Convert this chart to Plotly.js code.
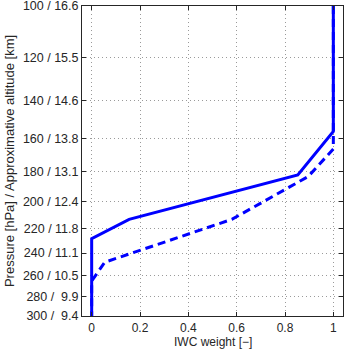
<!DOCTYPE html>
<html>
<head>
<meta charset="utf-8">
<script src="https://cdn.plot.ly/plotly-3.0.1.min.js"></script>
<style>html,body{margin:0;padding:0;background:#fff;}#chart{width:346px;height:349px;}</style>
</head>
<body>
<div id="chart"></div>
<script>
// Solid profile
const solidWeight = [1, 1, 0.853, 0.155, 0, 0];
const solidPressure = [100, 156, 182, 213, 228, 300];
// Dashed profile
const dashedWeight = [1, 1, 0.896, 0.58, 0.054, 0, 0];
const dashedPressure = [100, 166, 183, 213, 248, 265, 300];
// Tick labels
const pressureTicks = [100, 120, 140, 160, 180, 200, 220, 240, 260, 280, 300];
const pressureLabels = ["100 / 16.6", "120 / 15.5", "140 / 14.6", "160 / 13.8", "180 / 13.1",
  "200 / 12.4", "220 / 11.8", "240 / 11.1", "260 / 10.5", "280 /\u00a0\u00a09.9", "300 /\u00a0\u00a09.4"];
const weightTicks = [0, 0.2, 0.4, 0.6, 0.8, 1];
const weightLabels = ["0", "0.2", "0.4", "0.6", "0.8", "1"];
const xTitle = 'IWC weight [\u2212]';
const yTitle = 'Pressure [hPa] / Approximative altitude [km]';

const traces = [
  {x: dashedWeight, y: dashedPressure, mode: 'lines', type: 'scatter',
   line: {color: '#0000ff', width: 3, dash: '8px,5px'}, hoverinfo: 'skip'},
  {x: solidWeight, y: solidPressure, mode: 'lines', type: 'scatter',
   line: {color: '#0000ff', width: 3}, hoverinfo: 'skip'}
];

const fam = 'Liberation Sans, Arial, sans-serif';
const txt = '#262626';
const layout = {
  width: 346, height: 349,
  margin: {l: 82, r: 3, t: 6, b: 33},
  showlegend: false,
  paper_bgcolor: '#fff', plot_bgcolor: '#fff',
  font: {family: fam, size: 12, color: txt},
  xaxis: {
    range: [-0.04, 1.04],
    tickvals: weightTicks, ticktext: weightLabels,
    ticks: 'inside', ticklen: 4, tickcolor: txt,
    showline: true, linecolor: txt, linewidth: 1, mirror: 'ticks',
    showgrid: true, gridcolor: '#9a9a9a', griddash: '1px,3px', gridwidth: 1,
    zeroline: false,
    ticklabelstandoff: 1,
    ticklabeloverflow: 'allow',
    tickfont: {size: 12, family: fam, color: txt}
  },
  yaxis: {
    type: 'log',
    range: [Math.log10(300.01), Math.log10(99.99)],
    tickvals: pressureTicks, ticktext: pressureLabels,
    ticks: 'inside', ticklen: 4, tickcolor: txt,
    showline: true, linecolor: txt, linewidth: 1, mirror: 'ticks',
    showgrid: true, gridcolor: '#9a9a9a', griddash: '1px,3px', gridwidth: 1,
    zeroline: false,
    ticklabeloverflow: 'allow',
    tickfont: {size: 12.5, family: fam, color: txt},
    title: {text: yTitle, font: {size: 13, family: fam, color: txt}, standoff: 5}
  },
  annotations: [{
    text: xTitle, xref: 'paper', yref: 'paper', x: 0.5, y: -0.0823,
    xanchor: 'center', yanchor: 'middle', showarrow: false,
    font: {size: 12, family: fam, color: txt}
  }]
};
Plotly.newPlot('chart', traces, layout, {staticPlot: true, displayModeBar: false});
</script>
</body>
</html>
